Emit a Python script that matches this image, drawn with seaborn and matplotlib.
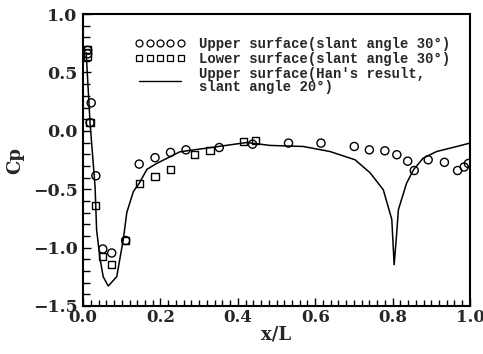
import matplotlib
matplotlib.use("Agg")
import matplotlib.pyplot as plt
from matplotlib.lines import Line2D
from matplotlib.ticker import MultipleLocator
import pandas as pd
import seaborn as sns

# upper surface, slant angle 30 deg (circles)
upper_x = [0.012, 0.012, 0.021, 0.018, 0.033, 0.051, 0.074, 0.110, 0.145, 0.186,
           0.226, 0.266, 0.352, 0.438, 0.531, 0.615, 0.701, 0.740, 0.780, 0.811,
           0.839, 0.856, 0.892, 0.934, 0.968, 0.985, 0.996]
upper_cp = [0.69, 0.66, 0.24, 0.07, -0.385, -1.013, -1.047, -0.94, -0.285, -0.23,
            -0.185, -0.163, -0.143, -0.114, -0.105, -0.105, -0.134, -0.163, -0.171, -0.205,
            -0.26, -0.34, -0.248, -0.27, -0.34, -0.31, -0.28]

# lower surface, slant angle 30 deg (squares)
lower_x = [0.012, 0.012, 0.018, 0.031, 0.051, 0.074, 0.110, 0.145, 0.186, 0.226,
           0.288, 0.328, 0.414, 0.446]
lower_cp = [0.70, 0.64, 0.07, -0.64, -1.075, -1.147, -0.94, -0.45, -0.39, -0.33,
            -0.20, -0.17, -0.09, -0.083]

# Han's result, upper surface, slant angle 20 deg (line)
han_x = [0.008, 0.018, 0.031, 0.035, 0.044, 0.052, 0.065, 0.087, 0.104, 0.113,
         0.130, 0.145, 0.165, 0.19, 0.25, 0.337, 0.423, 0.483, 0.569, 0.638,
         0.703, 0.742, 0.776, 0.798, 0.804, 0.810, 0.815, 0.836, 0.854, 0.879,
         0.914, 0.966, 1.0]
han_cp = [0.67, 0.07, -0.48, -0.85, -1.10, -1.25, -1.33, -1.25, -0.93, -0.70,
          -0.52, -0.45, -0.33, -0.28, -0.18, -0.14, -0.10, -0.125, -0.134, -0.177,
          -0.248, -0.36, -0.505, -0.76, -1.147, -0.905, -0.676, -0.45, -0.334, -0.234,
          -0.177, -0.134, -0.105]

labels = ["Upper surface(slant angle 30°)",
          "Lower surface(slant angle 30°)",
          "Upper surface(Han's result,\nslant angle 20°)"]

sns.set_style("ticks")
plt.rcParams['font.family'] = ['DejaVu Serif']
plt.rcParams['font.weight'] = 'bold'

fig = plt.figure(figsize=(4.83, 3.54), dpi=100)
ax = fig.add_axes([0.172, 0.136, 0.801, 0.824])

df_han = pd.DataFrame({"x": han_x, "cp": han_cp})
sns.lineplot(data=df_han, x="x", y="cp", sort=False, estimator=None,
             color="black", linewidth=1.1, ax=ax)
sns.scatterplot(x=upper_x, y=upper_cp, marker="o", s=34, facecolors="none",
                edgecolor="black", linewidth=1.0, ax=ax)
sns.scatterplot(x=lower_x, y=lower_cp, marker="s", s=26, facecolors="none",
                edgecolor="black", linewidth=1.0, ax=ax)

ax.set_xlim(0, 1)
ax.set_ylim(-1.5, 1.0)
ax.xaxis.set_major_locator(MultipleLocator(0.2))
ax.xaxis.set_minor_locator(MultipleLocator(0.02))
ax.yaxis.set_major_locator(MultipleLocator(0.5))
ax.yaxis.set_minor_locator(MultipleLocator(0.1))
ax.tick_params(which="both", direction="in", top=False, right=False,
               width=1.0, color="black")
ax.tick_params(axis="x", which="major", length=6, pad=2, labelsize=12)
ax.tick_params(axis="x", which="minor", length=4)
ax.tick_params(axis="y", which="major", length=6, pad=4, labelsize=12.5)
ax.tick_params(axis="y", which="minor", length=5)
for s in ax.spines.values():
    s.set_linewidth(1.5)
    s.set_color("black")

ax.set_xlabel("x/L", fontsize=13, fontweight="bold", labelpad=0)
ax.set_ylabel("Cp", fontsize=13, fontweight="bold", labelpad=6)

handles = [Line2D([0], [0], marker="o", ls="none", mfc="none", mec="black", ms=5, mew=0.9),
           Line2D([0], [0], marker="s", ls="none", mfc="none", mec="black", ms=4.5, mew=0.9),
           Line2D([0], [0], color="black", lw=1.0)]
leg = ax.legend(handles, labels, loc="upper left", bbox_to_anchor=(0.12, 0.94),
                frameon=False, numpoints=5, handlelength=3.6, handletextpad=1.0,
                labelspacing=0.05, borderaxespad=0,
                prop={"family": "Liberation Mono", "weight": "bold", "size": 10})
for t in leg.get_texts():
    t.set_linespacing(0.95)

fig.savefig("out.png", dpi=100)
